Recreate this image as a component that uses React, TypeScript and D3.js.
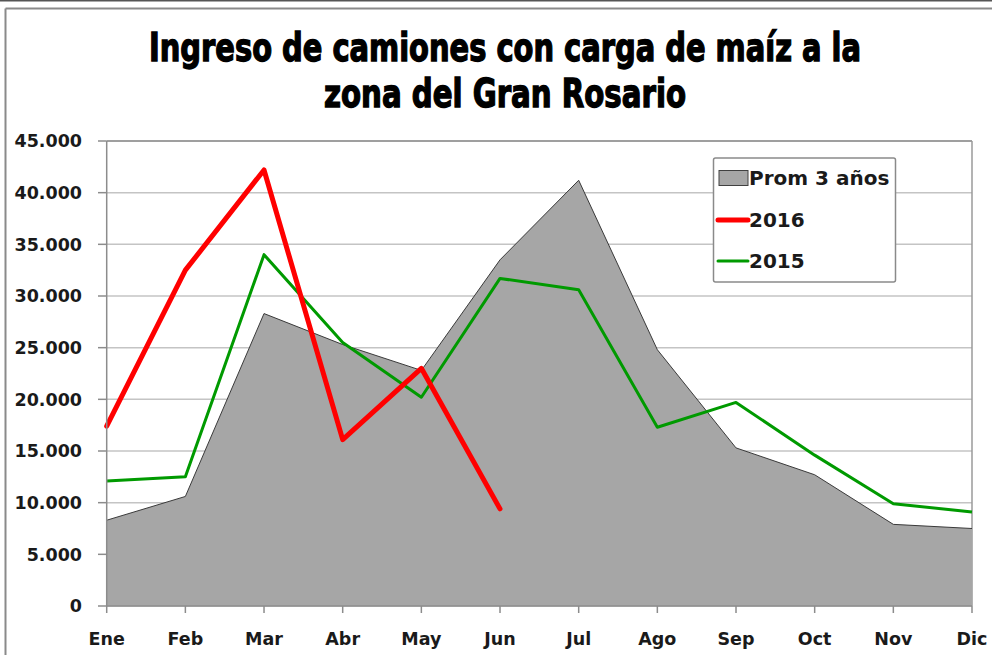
import React from "react";
import * as d3 from "d3";

const months = ["Ene", "Feb", "Mar", "Abr", "May", "Jun", "Jul", "Ago", "Sep", "Oct", "Nov", "Dic"];
const prom3 = [8300, 10600, 28300, 25300, 22800, 33500, 41200, 24800, 15300, 12700, 7900, 7500];
const y2016 = [17400, 32500, 42200, 16100, 23000, 9400];
const y2015 = [12100, 12500, 34000, 25500, 20200, 31700, 30600, 17300, 19700, 14600, 9900, 9100];
const yTicks = [0, 5000, 10000, 15000, 20000, 25000, 30000, 35000, 40000, 45000];
const titleLines = ["Ingreso de camiones con carga de maíz a la", "zona del Gran Rosario"];
const legendItems = ["Prom 3 años", "2016", "2015"];

const W = 992;
const H = 655;
const left = 106.7;
const right = 972;
const top = 141;
const bottom = 606;

export default function App() {
  const x = d3.scalePoint<string>().domain(months).range([left, right]);
  const y = d3.scaleLinear().domain([0, 45000]).range([bottom, top]);
  const fmt = (v: number) => d3.format(",")(v).replace(/,/g, ".");

  const area = d3
    .area<number>()
    .x((_, i) => x(months[i]) as number)
    .y0(bottom)
    .y1((d) => y(d));
  const line = d3
    .line<number>()
    .x((_, i) => x(months[i]) as number)
    .y((d) => y(d));

  const axisFont = "'DejaVu Sans', sans-serif";

  return (
    <svg
      width={W}
      height={H}
      viewBox={`0 0 ${W} ${H}`}
      style={{ position: "absolute", left: 0, top: 0, background: "#fff" }}
    >
      <rect x={0} y={0} width={W} height={H} fill="#fff" />
      {/* outer frame */}
      <line x1={0} x2={W} y1={0.8} y2={0.8} stroke="#555" strokeWidth={1.6} />
      <line x1={5.5} x2={W} y1={8.5} y2={8.5} stroke="#8a8a8a" strokeWidth={2} />
      <line x1={5.5} x2={5.5} y1={8.5} y2={H} stroke="#8a8a8a" strokeWidth={2} />

      {/* title */}
      {titleLines.map((t, i) => (
        <text
          key={t}
          x={505}
          y={i === 0 ? 61 : 107}
          textAnchor="middle"
          fontFamily="'DejaVu Sans Condensed', 'DejaVu Sans', sans-serif"
          fontWeight="bold"
          fontSize={39}
          textLength={i === 0 ? 712 : 362}
          lengthAdjust="spacingAndGlyphs"
          fill="#000"
          stroke="#000"
          strokeWidth={1.3}
        >
          {t}
        </text>
      ))}

      {/* gridlines */}
      {yTicks.map((t) => (
        <line
          key={t}
          x1={left}
          x2={right}
          y1={y(t)}
          y2={y(t)}
          stroke={t === 45000 ? "#7f7f7f" : "#c4c4c4"}
          strokeWidth={1.5}
        />
      ))}
      <line x1={right} x2={right} y1={top} y2={bottom} stroke="#9a9a9a" strokeWidth={1.5} />

      {/* area */}
      <path d={area(prom3) as string} fill="#a6a6a6" stroke="none" />
      <path d={line(prom3) as string} fill="none" stroke="#3a3a3a" strokeWidth={1} />

      {/* lines */}
      <path d={line(y2015) as string} fill="none" stroke="#009a00" strokeWidth={3} strokeLinejoin="round" />
      <path d={line(y2016) as string} fill="none" stroke="#ff0000" strokeWidth={5} strokeLinejoin="round" strokeLinecap="round" />

      {/* axes */}
      <line x1={left} x2={left} y1={top} y2={bottom} stroke="#8c8c8c" strokeWidth={1.5} />
      <line x1={left} x2={right} y1={bottom} y2={bottom} stroke="#8c8c8c" strokeWidth={1.5} />
      {yTicks.map((t) => (
        <g key={"yt" + t}>
          <line x1={98} x2={left} y1={y(t)} y2={y(t)} stroke="#8c8c8c" strokeWidth={1.5} />
          <text
            x={82}
            y={y(t)}
            dy="0.36em"
            textAnchor="end"
            fontFamily={axisFont}
            fontWeight="bold"
            fontSize={17.5}
            fill="#1a1a1a"
          >
            {fmt(t)}
          </text>
        </g>
      ))}
      {months.map((m) => (
        <g key={"xt" + m}>
          <line x1={x(m)} x2={x(m)} y1={bottom} y2={bottom + 7} stroke="#8c8c8c" strokeWidth={1.5} />
          <text
            x={x(m)}
            y={645}
            textAnchor="middle"
            fontFamily={axisFont}
            fontWeight="bold"
            fontSize={17.5}
            fill="#1a1a1a"
          >
            {m}
          </text>
        </g>
      ))}

      {/* legend */}
      <rect x={713.5} y={158} width={182} height={124} rx={2} fill="#fff" stroke="#8a8a8a" strokeWidth={1.5} />
      {legendItems.map((name, i) => {
        const cy = [178, 220, 261][i];
        return (
          <g key={name}>
            {i === 0 ? (
              <rect x={719} y={170.5} width={29} height={15} fill="#a6a6a6" stroke="#404040" strokeWidth={1} />
            ) : (
              <line
                x1={718}
                x2={748}
                y1={cy}
                y2={cy}
                stroke={i === 1 ? "#ff0000" : "#009a00"}
                strokeWidth={i === 1 ? 5 : 3}
                strokeLinecap="round"
              />
            )}
            <text
              x={749}
              y={cy}
              dy="0.36em"
              fontFamily={axisFont}
              fontWeight="bold"
              fontSize={20}
              fill="#1a1a1a"
            >
              {name}
            </text>
          </g>
        );
      })}
    </svg>
  );
}
